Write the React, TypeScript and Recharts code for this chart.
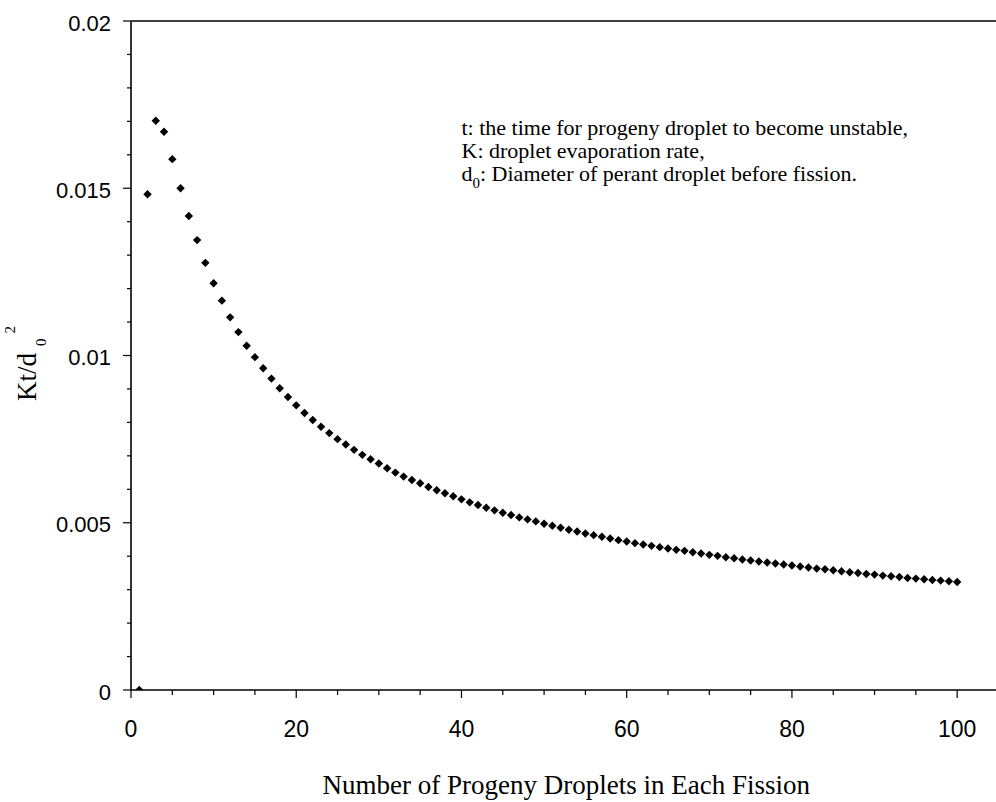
import React from "react";
import { ScatterChart, Scatter, XAxis, YAxis } from "recharts";

const DROPLETS = [
  1, 2, 3, 4, 5, 6, 7, 8, 9, 10, 11, 12, 13, 14, 15, 16, 17, 18, 19, 20,
  21, 22, 23, 24, 25, 26, 27, 28, 29, 30, 31, 32, 33, 34, 35, 36, 37, 38, 39, 40,
  41, 42, 43, 44, 45, 46, 47, 48, 49, 50, 51, 52, 53, 54, 55, 56, 57, 58, 59, 60,
  61, 62, 63, 64, 65, 66, 67, 68, 69, 70, 71, 72, 73, 74, 75, 76, 77, 78, 79, 80,
  81, 82, 83, 84, 85, 86, 87, 88, 89, 90, 91, 92, 93, 94, 95, 96, 97, 98, 99, 100,
];

const KT_D0SQ = [
  0, 0.01482, 0.01702, 0.01669, 0.01587, 0.015, 0.01417, 0.01345, 0.01277, 0.01216,
  0.01164, 0.01114, 0.0107, 0.01029, 0.00995, 0.00962, 0.00931, 0.00902, 0.00876, 0.00851,
  0.00828, 0.00807, 0.00787, 0.00768, 0.0075, 0.00734, 0.00718, 0.00703, 0.0069, 0.00677,
  0.00663, 0.0065, 0.00638, 0.00628, 0.00618, 0.00607, 0.00597, 0.00588, 0.00579, 0.0057,
  0.00561, 0.00553, 0.00545, 0.00537, 0.0053, 0.00523, 0.00516, 0.0051, 0.00504, 0.00497,
  0.00491, 0.00485, 0.00479, 0.00474, 0.00468, 0.00463, 0.00458, 0.00453, 0.00448, 0.00444,
  0.00439, 0.00435, 0.00431, 0.00427, 0.00423, 0.00419, 0.00416, 0.00412, 0.00408, 0.00404,
  0.00401, 0.00397, 0.00394, 0.0039, 0.00387, 0.00384, 0.00381, 0.00378, 0.00375, 0.00372,
  0.00369, 0.00366, 0.00363, 0.00361, 0.00358, 0.00355, 0.00352, 0.0035, 0.00347, 0.00345,
  0.00342, 0.0034, 0.00338, 0.00335, 0.00333, 0.00331, 0.00329, 0.00327, 0.00325, 0.00323,
];

const X_TICKS = [0, 5, 10, 15, 20, 25, 30, 35, 40, 45, 50, 55, 60, 65, 70, 75, 80, 85, 90, 95, 100];
const X_MAJOR = [0, 20, 40, 60, 80, 100];
const Y_TICKS = [
  0, 0.001, 0.002, 0.003, 0.004, 0.005, 0.006, 0.007, 0.008, 0.009, 0.01,
  0.011, 0.012, 0.013, 0.014, 0.015, 0.016, 0.017, 0.018, 0.019, 0.02,
];
const Y_MAJOR = [0, 0.005, 0.01, 0.015, 0.02];
const Y_MAJOR_LABELS = ["0", "0.005", "0.01", "0.015", "0.02"];

const X_LABEL = "Number of Progeny Droplets in Each Fission";
const NOTE_LINES = [
  "t: the time for progeny droplet to become unstable,",
  "K: droplet evaporation rate,",
  ": Diameter of perant droplet before fission.",
];

const data = DROPLETS.map((n, i) => ({ n, v: KT_D0SQ[i] }));

const SANS = "'Liberation Sans', Arial, Helvetica, sans-serif";
const SERIF = "'Liberation Serif', 'Times New Roman', serif";

const isMajorX = (v: number) => X_MAJOR.some((m) => Math.abs(m - v) < 1e-9);
const majorYIndex = (v: number) => Y_MAJOR.findIndex((m) => Math.abs(m - v) < 1e-9);

const XTickBottom = (props: any) => {
  const { x, y, payload } = props;
  const major = isMajorX(payload.value);
  return (
    <g>
      <line x1={x} x2={x} y1={y} y2={y + (major ? 8 : 5)} stroke="#000" strokeWidth={1.2} />
      {major && (
        <text x={x} y={y + 47} textAnchor="middle" fontFamily={SANS} fontSize={23} fill="#000">
          {payload.value}
        </text>
      )}
    </g>
  );
};

const XTickTop = (props: any) => {
  const { x, y, payload } = props;
  const major = isMajorX(payload.value);
  return <line x1={x} x2={x} y1={y} y2={y - (major ? 8 : 5)} stroke="#000" strokeWidth={1.2} />;
};

const YTickLeft = (props: any) => {
  const { x, y, payload } = props;
  const idx = majorYIndex(payload.value);
  const major = idx >= 0;
  return (
    <g>
      <line x1={x} x2={x - (major ? 8 : 4)} y1={y} y2={y} stroke="#000" strokeWidth={1.2} />
      {major && (
        <text x={x - 20} y={y + 9.5} textAnchor="end" fontFamily={SANS} fontSize={22} fill="#000">
          {Y_MAJOR_LABELS[idx]}
        </text>
      )}
    </g>
  );
};

const Diamond = (props: any) => {
  const { cx, cy } = props;
  const r = 4.2;
  return (
    <polygon
      points={`${cx},${cy - r} ${cx + r},${cy} ${cx},${cy + r} ${cx - r},${cy}`}
      fill="#000"
    />
  );
};

const YLabel = () => (
  <text transform="translate(36,401) rotate(-90)" x={0} y={0} fontFamily={SERIF} fontSize={27} fill="#000">
    Kt/d
    <tspan fontSize={15} dx={7} dy={10}>0</tspan>
    <tspan fontSize={15} dx={5} dy={-31}>2</tspan>
  </text>
);

const XLabel = () => (
  <text x={810} y={794} textAnchor="end" fontFamily={SERIF} fontSize={27} fill="#000">
    {X_LABEL}
  </text>
);

export default function App() {
  return (
    <div style={{ position: "absolute", left: 0, top: 0, width: 996, height: 802, background: "#fff" }}>
      <ScatterChart width={996} height={802} margin={{ top: 0, right: 0, bottom: 0, left: 0 }}>
        <XAxis
          dataKey="n"
          type="number"
          domain={[0, 104.7]}
          ticks={X_TICKS}
          interval={0}
          height={112}
          tickSize={0}
          tickMargin={0}
          tickLine={false}
          axisLine={{ stroke: "#000", strokeWidth: 1.6 }}
          tick={<XTickBottom />}
          allowDataOverflow
          label={<XLabel />}
        />
        <XAxis
          xAxisId="top"
          orientation="top"
          type="number"
          domain={[0, 104.7]}
          ticks={X_TICKS}
          interval={0}
          height={21}
          tickSize={0}
          tickMargin={0}
          tickLine={false}
          axisLine={{ stroke: "#000", strokeWidth: 1.6 }}
          tick={<XTickTop />}
          allowDataOverflow
        />
        <YAxis
          dataKey="v"
          type="number"
          domain={[0, 0.02]}
          ticks={Y_TICKS}
          interval={0}
          width={131}
          tickSize={0}
          tickMargin={0}
          tickLine={false}
          axisLine={{ stroke: "#000", strokeWidth: 1.6 }}
          tick={<YTickLeft />}
          allowDataOverflow
          label={<YLabel />}
        />
        <Scatter data={data} shape={<Diamond />} isAnimationActive={false} />
      </ScatterChart>
      <svg
        width={996}
        height={802}
        style={{ position: "absolute", left: 0, top: 0, pointerEvents: "none" }}
      >
        <g fontFamily={SERIF} fontSize={22} fill="#000">
          <text x={461.5} y={135}>{NOTE_LINES[0]}</text>
          <text x={461.5} y={157.5}>{NOTE_LINES[1]}</text>
          <text x={461.5} y={181}>
            d
            <tspan fontSize={15} dy={7}>0</tspan>
            <tspan dy={-7}>{NOTE_LINES[2]}</tspan>
          </text>
        </g>
      </svg>
    </div>
  );
}
